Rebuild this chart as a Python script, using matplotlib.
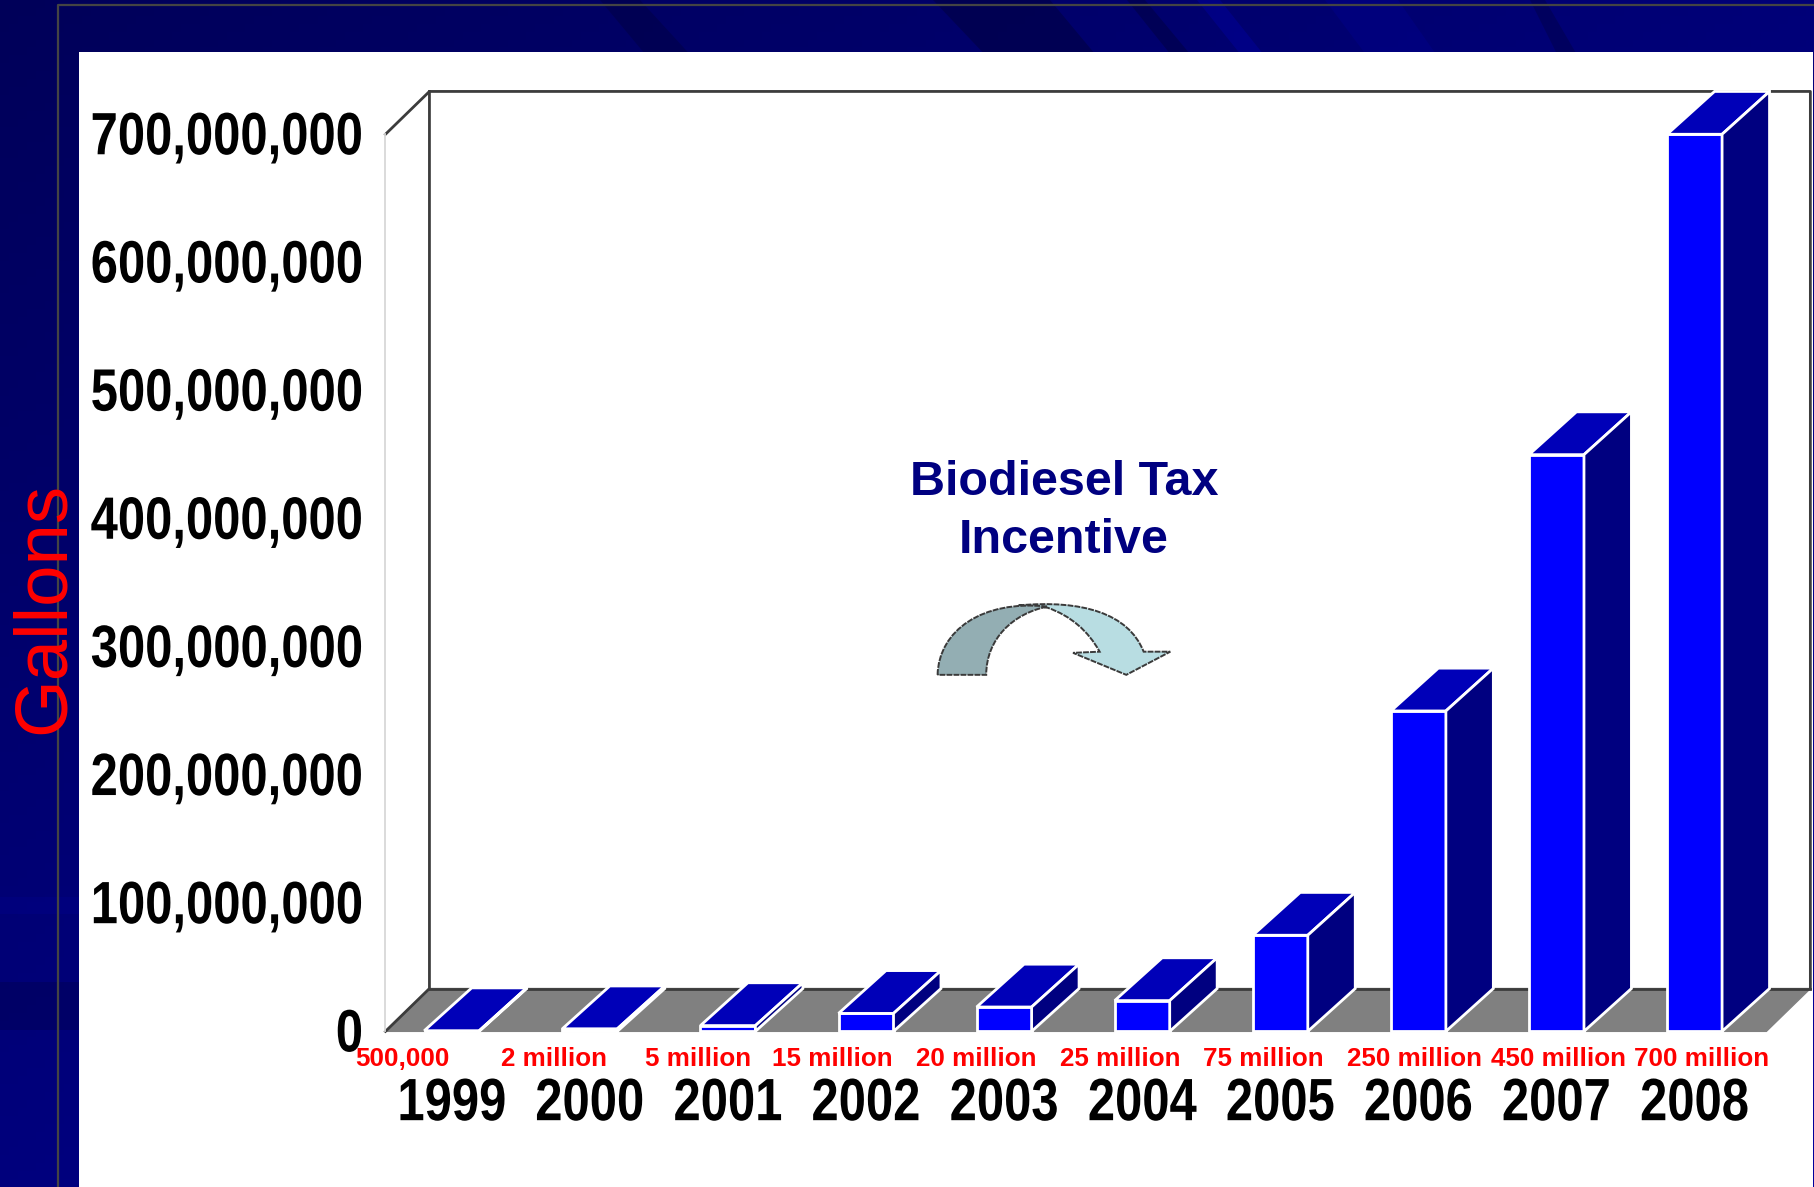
import numpy as np
import matplotlib
matplotlib.use("Agg")
import matplotlib.pyplot as plt
from matplotlib.patches import PathPatch, Polygon, Rectangle
from matplotlib.patheffects import AbstractPathEffect
from matplotlib.path import Path
from matplotlib.transforms import Affine2D

years = ["1999", "2000", "2001", "2002", "2003", "2004", "2005", "2006", "2007", "2008"]
# bar heights as drawn, the painted ones sit a bit under their labels
gallons = [0.5e6, 2e6, 4.5e6, 14e6, 19e6, 24e6, 75e6, 250e6, 450e6, 700e6]
value_labels = ["500,000", "2 million", "5 million", "15 million", "20 million",
                "25 million", "75 million", "250 million", "450 million", "700 million"]
y_ticks = [0, 100e6, 200e6, 300e6, 400e6, 500e6, 600e6, 700e6]

W, H = 1815, 1187
s = W / 1568  # I measured everything on a 1568 wide view
plain = ["Liberation Sans", "DejaVu Sans"]


class Condense(AbstractPathEffect):
    # squeezes the glyphs sideways, there is no narrow bold font here
    def __init__(self, sx, anchor, dy=0):
        super().__init__()
        self.sx = sx
        self.anchor = anchor
        self.dy = dy

    def draw_path(self, renderer, gc, tpath, affine, rgbFace=None):
        box = tpath.get_extents()
        x = box.x1 if self.anchor == "right" else (box.x0 + box.x1) / 2
        squeeze = Affine2D().translate(-x, 0).scale(self.sx, 1).translate(x, 0)
        renderer.draw_path(gc, tpath, squeeze + affine + Affine2D().translate(0, self.dy), rgbFace)


fig = plt.figure(figsize=(W / 100, H / 100), dpi=100, facecolor="#000070")

# slide background, panel and arrow go on a pixel axes
bg = fig.add_axes([0, 0, 1, 1])
bg.set_xlim(0, W)
bg.set_ylim(H, 0)
bg.axis("off")
gx, gy = np.meshgrid(np.linspace(0, 1, 200), np.linspace(0, 1, 150))
shade = 0.35 + 0.12 * gx + 0.14 * gy
rgb = np.dstack([np.zeros_like(shade), np.zeros_like(shade), shade])
bg.imshow(rgb, extent=[0, W, H, 0], aspect="auto", zorder=0)

# streaks of the slide template, top band
streaks = [(600, 640, 650, 695, "#000040", 0.45), (933, 1050, 990, 1100, "#000040", 0.55),
           (1127, 1145, 1175, 1195, "#000040", 0.5), (1197, 1220, 1245, 1268, "#0000a0", 0.45),
           (1325, 1398, 1370, 1440, "#0000a0", 0.25), (1530, 1545, 1560, 1580, "#000040", 0.4)]
for x0, x1, x2, x3, c, a in streaks:
    bg.add_patch(Polygon([(x0, 0), (x1, 0), (x3, 60), (x2, 60)], fc=c, ec="none", alpha=a, zorder=1))
# and the bands on the left strip
bg.add_patch(Rectangle((0, 982), 80, 48, fc="#000040", ec="none", alpha=0.3, zorder=1))
bg.add_patch(Rectangle((0, 897), 80, 17, fc="#0000a0", ec="none", alpha=0.2, zorder=1))

bg.plot([50 * s, 50 * s, W], [H, 4 * s, 4 * s], color="#444444", lw=1.6, zorder=1.5)
bg.add_patch(Rectangle((68 * s, 45 * s), (1566 - 68) * s, H, fc="white", ec="none", zorder=2))


def arrow_path(pts):
    verts = [(x * s, y * s) for x, y, _ in pts]
    codes = [c for _, _, c in pts]
    return Path(verts, codes)


M, L, C = Path.MOVETO, Path.LINETO, Path.CURVE4
left_part = [(810, 583, M), (811, 545, C), (848, 518, C), (905, 524, C),
             (875, 530, C), (852, 552, C), (852, 583, C), (810, 583, L)]
right_part = [(880, 523, M), (935, 518, C), (975, 530, C), (988, 563, C),
              (1011, 563, L), (973, 583, L), (927, 564, L), (950, 563, L),
              (940, 545, C), (925, 532, C), (905, 525, C), (880, 523, L)]
bg.add_patch(PathPatch(arrow_path(right_part), fc="#b8dde2", ec="#3a3a3a", lw=1.4,
                       ls=(0, (3, 0.6)), zorder=3))
bg.add_patch(PathPatch(arrow_path(left_part), fc="#93aeb3", ec="#3a3a3a", lw=1.4,
                       ls=(0, (3, 0.6)), zorder=3))

# chart axes sits on the front plane of the fake 3d box
ax = fig.add_axes([333 * s / W, 1 - 891 * s / H, (1526 - 333) * s / W, (891 - 116) * s / H])
ax.patch.set_alpha(0)
x_min, x_max = -0.48, 9.52
ax.set_xlim(x_min, x_max)
ax.set_ylim(0, 700e6)

wall_dx = 38 / 119.3
bar_dx = 41 / 119.3
depth = 37 / 775 * 700e6
bar_w = 47.5 / 119.3

# floor and walls
ax.fill([x_min, x_max, x_max + wall_dx, x_min + wall_dx], [0, 0, depth, depth],
        color="#808080", clip_on=False, zorder=1)
ax.plot([x_min + wall_dx, x_max + wall_dx], [depth, depth], color="#3c3c3c", lw=2, clip_on=False, zorder=1.5)
ax.plot([x_min, x_min + wall_dx, x_min + wall_dx], [0, depth, 700e6 + depth], color="#3c3c3c", lw=2,
        clip_on=False, zorder=1.5)
ax.plot([x_min, x_min + wall_dx, x_max + wall_dx, x_max + wall_dx],
        [700e6, 700e6 + depth, 700e6 + depth, depth],
        color="#3c3c3c", lw=2, clip_on=False, zorder=1.5)

# the bars, front then top then side
for i, v in enumerate(gallons):
    x0, x1 = i - bar_w / 2, i + bar_w / 2
    ax.fill([x0, x1, x1, x0], [0, 0, v, v], fc="#0000ff", ec="white", lw=2, clip_on=False, zorder=3)
    ax.fill([x0, x1, x1 + bar_dx, x0 + bar_dx], [v, v, v + depth, v + depth],
            fc="#0000b8", ec="white", lw=2, clip_on=False, zorder=3)
    ax.fill([x1, x1 + bar_dx, x1 + bar_dx, x1], [0, depth, v + depth, v],
            fc="#000080", ec="white", lw=2, clip_on=False, zorder=3)

for side in ["top", "right", "bottom"]:
    ax.spines[side].set_visible(False)
ax.spines["left"].set_color("#d8d8d8")
ax.spines["left"].set_linewidth(1.3)

ax.set_yticks(y_ticks)
ax.set_yticklabels([f"{int(t):,}" for t in y_ticks], family=plain, fontweight="bold", fontsize=43)
ax.set_xticks(range(len(years)))
ax.set_xticklabels(years, family=plain, fontweight="bold", fontsize=43)
ax.tick_params(axis="y", length=0, pad=15.8)
ax.tick_params(axis="x", length=0, pad=33)
for lbl in ax.get_yticklabels():
    lbl.set_path_effects([Condense(0.82, "right", dy=1.5)])
for lbl in ax.get_xticklabels():
    lbl.set_path_effects([Condense(0.82, "center")])

ax.set_ylabel("Gallons", color="red", family=plain, fontsize=53.6, rotation=90, va="center", ha="center")
ax.yaxis.set_label_coords((38 - 333) / (1526 - 333), (891 - 525) / (891 - 116))

# red labels are not on the bar centres, they drift to the right of them
label_shift = [-43, -31, -26, -29, -24, -19, -15, -3, 2, 6]
for i, txt in enumerate(value_labels):
    ax.annotate(txt, xy=(i, 0), xytext=(label_shift[i] * s * 0.72, -23.5 * s * 0.72), textcoords="offset points",
                ha="center", va="center", color="red", family=plain, fontweight="bold", fontsize=18.7,
                annotation_clip=False)

bg.text(919 * s, 442 * s, "Biodiesel Tax\nIncentive", color="#000080", family=plain, fontweight="bold",
        fontsize=34.9, ha="center", va="center", linespacing=1.36, zorder=4)

fig.savefig("out.png", dpi=100)
